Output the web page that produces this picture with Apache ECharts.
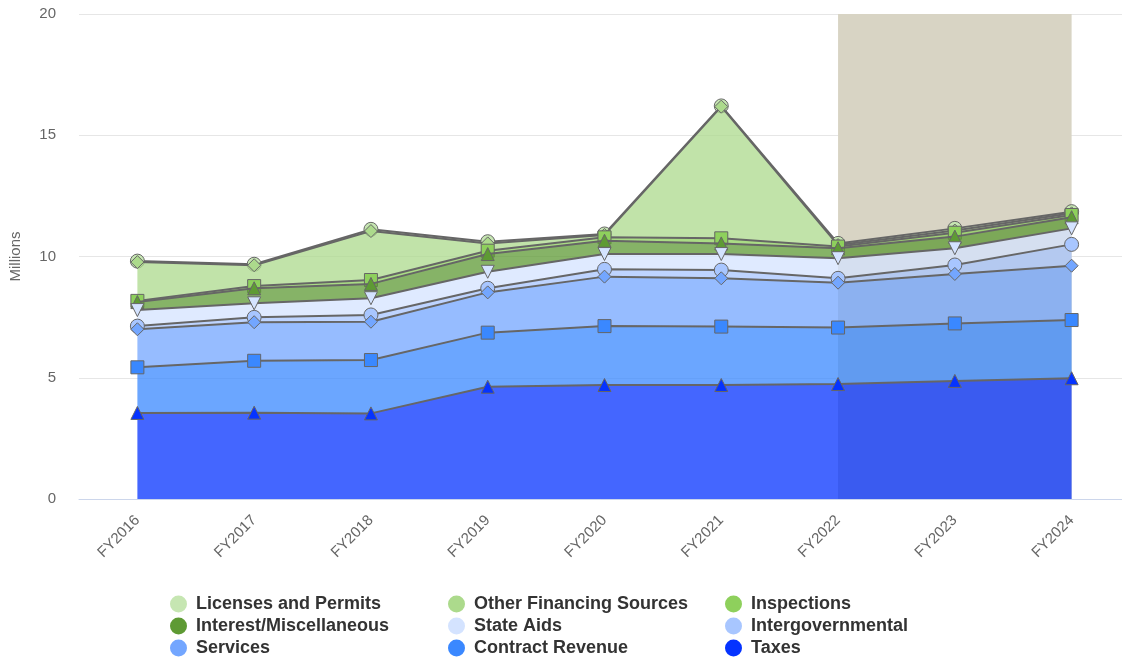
<!DOCTYPE html>
<html>
<head>
<meta charset="utf-8">
<script src="https://cdn.jsdelivr.net/npm/echarts@6/dist/echarts.min.js"></script>
<style>
  html, body { margin: 0; padding: 0; background: #fff; }
  #chart { width: 1122px; height: 659px; }
</style>
</head>
<body>
<div id="chart"></div>
<script>
// fiscal years on the x axis
var categories = ['FY2016', 'FY2017', 'FY2018', 'FY2019', 'FY2020', 'FY2021', 'FY2022', 'FY2023', 'FY2024'];

// revenue by source, millions (stacked from the bottom up)
var taxes             = [3.55, 3.56, 3.53, 4.63, 4.70, 4.70, 4.74, 4.87, 4.98];
var contractRevenue   = [1.88, 2.14, 2.20, 2.23, 2.43, 2.41, 2.33, 2.37, 2.40];
var services          = [1.57, 1.59, 1.58, 1.66, 2.04, 1.99, 1.85, 2.04, 2.24];
var intergovernmental = [0.13, 0.20, 0.28, 0.17, 0.30, 0.34, 0.18, 0.37, 0.88];
var stateAids         = [0.66, 0.58, 0.69, 0.68, 0.63, 0.66, 0.83, 0.69, 0.66];
var interestMisc      = [0.33, 0.62, 0.59, 0.73, 0.55, 0.44, 0.41, 0.48, 0.46];
var inspections       = [0.05, 0.09, 0.16, 0.14, 0.14, 0.21, 0.07, 0.16, 0.09];
var otherFinancing    = [1.60, 0.86, 2.02, 0.30, 0.10, 5.43, 0.06, 0.09, 0.07];
var licensesPermits   = [0.04, 0.04, 0.07, 0.07, 0.04, 0.03, 0.07, 0.09, 0.07];

// shaded projection years
var bandStart = 'FY2022';
var bandEnd = 'FY2024';

var yTicks = { min: 0, max: 20, interval: 5 };

var font = 'Liberation Sans, Arial, Helvetica, sans-serif';

// lower layers get a higher z so their markers sit on top
function mkSeries(name, data, color, symbol, rotate, z) {
    return {
        name: name,
        type: 'line',
        stack: 'total',
        z: z,
        data: data,
        color: color,
        symbol: symbol,
        symbolSize: symbol == 'circle' ? 14 : 13,
        symbolRotate: rotate || 0,
        showAllSymbol: true,
        lineStyle: { color: '#666666', width: 2 },
        itemStyle: { color: color, borderColor: '#666666', borderWidth: 1 },
        areaStyle: { color: color, opacity: 0.75 },
        emphasis: { disabled: true }
    };
}

var series = [
    mkSeries('Taxes', taxes, '#0533ff', 'triangle', 0, 11),
    mkSeries('Contract Revenue', contractRevenue, '#3a88ff', 'rect', 0, 10),
    mkSeries('Services', services, '#73a6ff', 'diamond', 0, 9),
    mkSeries('Intergovernmental', intergovernmental, '#a8c6ff', 'circle', 0, 8),
    mkSeries('State Aids', stateAids, '#d4e3ff', 'triangle', 180, 7),
    mkSeries('Interest/Miscellaneous', interestMisc, '#5e9a34', 'triangle', 0, 6),
    mkSeries('Inspections', inspections, '#8ed05c', 'rect', 0, 5),
    mkSeries('Other Financing Sources', otherFinancing, '#acda8c', 'diamond', 0, 4),
    mkSeries('Licenses and Permits', licensesPermits, '#c6e6b2', 'circle', 0, 3)
];

// the beige band sits behind every area
series[0].markArea = {
    silent: true,
    z: 1,
    itemStyle: { color: '#d8d4c4', opacity: 1 },
    data: [[{ xAxis: bandStart, yAxis: yTicks.max }, { xAxis: bandEnd, yAxis: yTicks.min }]]
};

function legendCol(left, names) {
    return {
        orient: 'vertical',
        left: left,
        top: 595,
        height: 64,
        padding: 0,
        icon: 'circle',
        itemWidth: 17,
        itemHeight: 17,
        itemGap: 4,
        selectedMode: false,
        itemStyle: { borderWidth: 0 },
        textStyle: { fontFamily: font, fontSize: 18, lineHeight: 17, fontWeight: 'bold', color: '#333333', padding: [0, 0, 0, 4] },
        data: names
    };
}

var chart = echarts.init(document.getElementById('chart'));

chart.setOption({
    animation: false,
    textStyle: { fontFamily: font },
    grid: { left: 79, top: 14, width: 1051, bottom: 160, containLabel: false, outerBoundsMode: 'none' },
    legend: [
        legendCol(170, ['Licenses and Permits', 'Interest/Miscellaneous', 'Services']),
        legendCol(448, ['Other Financing Sources', 'State Aids', 'Contract Revenue']),
        legendCol(725, ['Inspections', 'Intergovernmental', 'Taxes'])
    ],
    xAxis: {
        type: 'category',
        data: categories,
        boundaryGap: true,
        axisLine: { lineStyle: { color: '#ccd6eb', width: 1 } },
        axisTick: { show: false },
        axisLabel: { rotate: 45, color: '#666666', fontSize: 15, margin: 19 }
    },
    yAxis: {
        type: 'value',
        min: yTicks.min,
        max: yTicks.max,
        interval: yTicks.interval,
        name: 'Millions',
        nameLocation: 'middle',
        nameRotate: 90,
        nameGap: 56,
        nameTextStyle: { color: '#666666', fontSize: 15 },
        axisLine: { show: false },
        axisTick: { show: false },
        axisLabel: { color: '#666666', fontSize: 15, margin: 23 },
        splitLine: { lineStyle: { color: '#e6e6e6', width: 1 } }
    },
    series: series
});
</script>
</body>
</html>
